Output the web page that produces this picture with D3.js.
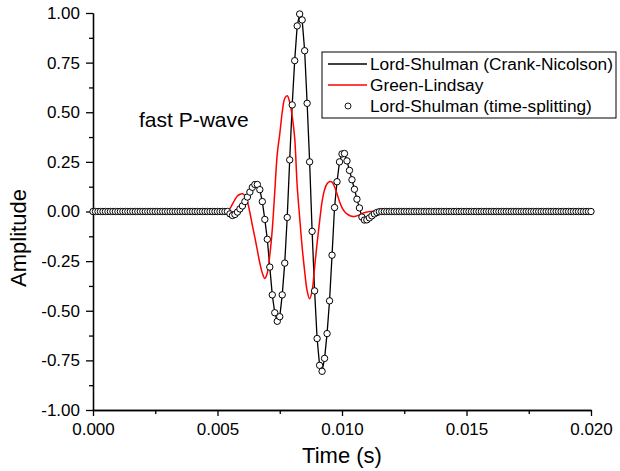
<!DOCTYPE html>
<html>
<head>
<meta charset="utf-8">
<script src="https://cdn.jsdelivr.net/npm/d3@7"></script>
<style>
  body { margin: 0; background: #fff; }
  svg { display: block; font-family: "Liberation Sans", Arial, sans-serif; }
</style>
</head>
<body>
<div id="chart"></div>
<script>
// sample grid: 201 points, 0 .. 0.020 s
var timeStep = 0.0001;

// Lord-Shulman (Crank-Nicolson line and time-splitting markers overlap)
var lordShulman = [
  0, 0, 0, 0, 0, 0, 0, 0, 0, 0,
  0, 0, 0, 0, 0, 0, 0, 0, 0, 0,
  0, 0, 0, 0, 0, 0, 0, 0, 0, 0,
  0, 0, 0, 0, 0, 0, 0, 0, 0, 0,
  0, 0, 0, 0, 0, 0, 0, 0, 0, 0,
  0, 0, 0, 0, 0, -0.012, -0.02, -0.015, -0.003, 0.013,
  0.028, 0.05, 0.073, 0.098, 0.122, 0.136, 0.136, 0.11, 0.05, -0.04,
  -0.14, -0.28, -0.42, -0.51, -0.553, -0.53, -0.42, -0.26, -0.03, 0.26,
  0.537, 0.76, 0.935, 0.995, 0.965, 0.81, 0.545, 0.25, -0.1, -0.4,
  -0.64, -0.775, -0.805, -0.74, -0.615, -0.45, -0.22, 0.02, 0.15, 0.25,
  0.29, 0.292, 0.255, 0.207, 0.16, 0.112, 0.062, 0.018, -0.028, -0.043,
  -0.042, -0.032, -0.022, -0.012, -0.005, -0.001, 0, 0, 0, 0,
  0, 0, 0, 0, 0, 0, 0, 0, 0, 0,
  0, 0, 0, 0, 0, 0, 0, 0, 0, 0,
  0, 0, 0, 0, 0, 0, 0, 0, 0, 0,
  0, 0, 0, 0, 0, 0, 0, 0, 0, 0,
  0, 0, 0, 0, 0, 0, 0, 0, 0, 0,
  0, 0, 0, 0, 0, 0, 0, 0, 0, 0,
  0, 0, 0, 0, 0, 0, 0, 0, 0, 0,
  0, 0, 0, 0, 0, 0, 0, 0, 0, 0,
  0
];

var greenLindsay = [
  0, 0, 0, 0, 0, 0, 0, 0, 0, 0,
  0, 0, 0, 0, 0, 0, 0, 0, 0, 0,
  0, 0, 0, 0, 0, 0, 0, 0, 0, 0,
  0, 0, 0, 0, 0, 0, 0, 0, 0, 0,
  0, 0, 0, 0, 0, 0, 0, 0, 0, 0,
  0, 0, 0, 0, 0.003, 0.015, 0.037, 0.06, 0.078, 0.087,
  0.089, 0.08, 0.05, -0.005, -0.07, -0.13, -0.195, -0.26, -0.31, -0.337,
  -0.31, -0.22, -0.09, 0.1, 0.29, 0.39, 0.5, 0.57, 0.583, 0.55,
  0.48, 0.37, 0.13, -0.03, -0.18, -0.3, -0.4, -0.44, -0.4, -0.28,
  -0.16, -0.05, 0.05, 0.11, 0.14, 0.15, 0.148, 0.125, 0.09, 0.05,
  0.02, 0, -0.012, -0.02, -0.024, -0.025, -0.022, -0.017, -0.01, -0.006,
  -0.003, 0, 0, 0, 0, 0, 0, 0, 0, 0,
  0, 0, 0, 0, 0, 0, 0, 0, 0, 0,
  0, 0, 0, 0, 0, 0, 0, 0, 0, 0,
  0, 0, 0, 0, 0, 0, 0, 0, 0, 0,
  0, 0, 0, 0, 0, 0, 0, 0, 0, 0,
  0, 0, 0, 0, 0, 0, 0, 0, 0, 0,
  0, 0, 0, 0, 0, 0, 0, 0, 0, 0,
  0, 0, 0, 0, 0, 0, 0, 0, 0, 0,
  0, 0, 0, 0, 0, 0, 0, 0, 0, 0,
  0
];

var xTicks = [0, 0.005, 0.01, 0.015, 0.02];
var xTickLabels = ["0.000", "0.005", "0.010", "0.015", "0.020"];
var xMinorTicks = [0.0025, 0.0075, 0.0125, 0.0175];
var yTicks = [-1, -0.75, -0.5, -0.25, 0, 0.25, 0.5, 0.75, 1];
var yTickLabels = ["-1.00", "-0.75", "-0.50", "-0.25", "0.00", "0.25", "0.50", "0.75", "1.00"];
var yMinorTicks = [-0.875, -0.625, -0.375, -0.125, 0.125, 0.375, 0.625, 0.875];
var seriesNames = ["Lord-Shulman (Crank-Nicolson)", "Green-Lindsay", "Lord-Shulman (time-splitting)"];

const width = 620;
const height = 471;
const margin = { top: 13, right: 29, bottom: 61, left: 93 };
const w = width - margin.left - margin.right;
const h = height - margin.top - margin.bottom;

const svg = d3
  .select("#chart")
  .append("svg")
  .attr("width", width)
  .attr("height", height);

const g = svg
  .append("g")
  .attr("transform", "translate(" + margin.left + "," + margin.top + ")");

const x = d3.scaleLinear().domain([0, 0.02]).range([0, w]);
const y = d3.scaleLinear().domain([-1, 1]).range([h, 0]);

var lsData = lordShulman.map(function (v, i) {
  return [i * timeStep, v];
});
var glData = greenLindsay.map(function (v, i) {
  return [i * timeStep, v];
});

var line = d3
  .line()
  .x(function (d) {
    return x(d[0]);
  })
  .y(function (d) {
    return y(d[1]);
  });

// axes
g.append("g")
  .attr("transform", "translate(0," + h + ")")
  .call(d3.axisBottom(x).tickValues(xMinorTicks).tickSize(4).tickFormat("").tickSizeOuter(0));
g.append("g")
  .attr("class", "x axis")
  .attr("transform", "translate(0," + h + ")")
  .call(
    d3.axisBottom(x)
      .tickValues(xTicks)
      .tickSize(6)
      .tickPadding(7)
      .tickSizeOuter(0)
      .tickFormat(function (d, i) {
        return xTickLabels[i];
      })
  );

g.append("g")
  .call(d3.axisLeft(y).tickValues(yMinorTicks).tickSize(4).tickFormat("").tickSizeOuter(0));
g.append("g")
  .attr("class", "y axis")
  .call(
    d3.axisLeft(y)
      .tickValues(yTicks)
      .tickSize(7)
      .tickPadding(6)
      .tickSizeOuter(0)
      .tickFormat(function (d, i) {
        return yTickLabels[i];
      })
  );

svg.selectAll(".domain, .tick line").attr("stroke", "#000").attr("stroke-width", 1.3);
svg.selectAll(".tick text")
  .attr("fill", "#000")
  .style("font-size", "17px")
  .style("font-family", "'Liberation Sans', Arial, sans-serif");

// series
g.append("path")
  .datum(lsData)
  .attr("fill", "none")
  .attr("stroke", "#000")
  .attr("stroke-width", 1.3)
  .attr("d", line);

g.append("path")
  .datum(glData)
  .attr("fill", "none")
  .attr("stroke", "#ff0000")
  .attr("stroke-width", 1.5)
  .attr("d", line.curve(d3.curveCatmullRom));

g.selectAll(".marker")
  .data(lsData)
  .enter()
  .append("circle")
  .attr("class", "marker")
  .attr("cx", function (d) {
    return x(d[0]);
  })
  .attr("cy", function (d) {
    return y(d[1]);
  })
  .attr("r", 3.2)
  .attr("fill", "#fff")
  .attr("stroke", "#000")
  .attr("stroke-width", 1);

// labels
svg.append("text")
  .attr("x", margin.left + w / 2)
  .attr("y", 463)
  .attr("text-anchor", "middle")
  .style("font-size", "22px")
  .text("Time (s)");

svg.append("text")
  .attr("transform", "translate(26,238) rotate(-90)")
  .attr("text-anchor", "middle")
  .style("font-size", "22px")
  .text("Amplitude");

svg.append("text")
  .attr("x", 139)
  .attr("y", 127)
  .style("font-size", "21px")
  .text("fast P-wave");

// legend
const legend = svg.append("g").attr("transform", "translate(322,52)");
legend.append("rect")
  .attr("width", 294)
  .attr("height", 66)
  .attr("fill", "#fff")
  .attr("stroke", "#000")
  .attr("stroke-width", 1);

var rowY = [12, 33, 54];
legend.append("line")
  .attr("x1", 6).attr("x2", 45).attr("y1", rowY[0]).attr("y2", rowY[0])
  .attr("stroke", "#000").attr("stroke-width", 1.3);
legend.append("line")
  .attr("x1", 6).attr("x2", 45).attr("y1", rowY[1]).attr("y2", rowY[1])
  .attr("stroke", "#ff0000").attr("stroke-width", 1.5);
legend.append("circle")
  .attr("cx", 26).attr("cy", rowY[2]).attr("r", 3)
  .attr("fill", "#fff").attr("stroke", "#000").attr("stroke-width", 0.9);

legend.selectAll(".ltext")
  .data(seriesNames)
  .enter()
  .append("text")
  .attr("class", "ltext")
  .attr("x", 48)
  .attr("y", function (d, i) {
    return rowY[i] + 6;
  })
  .style("font-size", "17.3px")
  .text(function (d) {
    return d;
  });
</script>
</body>
</html>
